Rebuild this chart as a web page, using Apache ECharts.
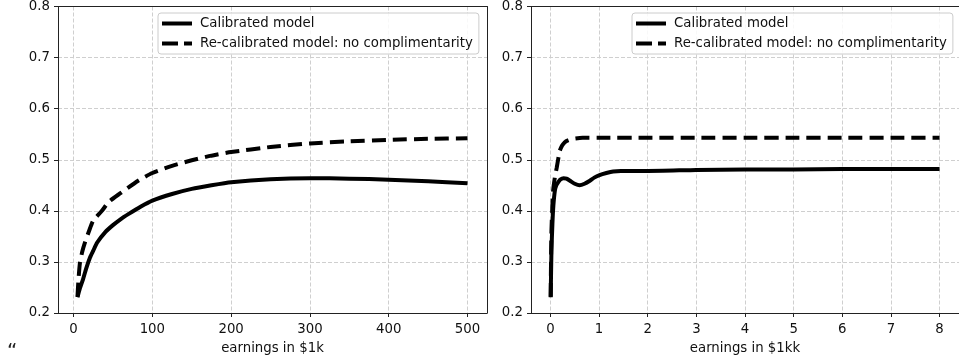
<!DOCTYPE html>
<html>
<head>
<meta charset="utf-8">
<script src="https://cdn.jsdelivr.net/npm/echarts@6/dist/echarts.min.js"></script>
<style>
html,body{margin:0;padding:0;background:#fff;}
#c{width:959px;height:364px;}
</style>
</head>
<body>
<div id="c"></div>
<script>
// Left panel: earnings in $1k
var leftCalX = [5, 8, 12, 16, 21, 25, 30, 40, 50, 60, 70, 85, 100, 125, 150, 175, 200, 250, 300, 350, 400, 450, 500];
var leftCalY = [0.231, 0.248, 0.266, 0.287, 0.309, 0.322, 0.338, 0.358, 0.372, 0.384, 0.394, 0.408, 0.420, 0.433, 0.443, 0.450, 0.456, 0.462, 0.464, 0.463, 0.461, 0.458, 0.454];
var leftRecX = [5, 6, 8, 11, 14, 20, 25, 36, 45, 59, 82, 100, 125, 150, 175, 200, 250, 300, 350, 400, 450, 500];
var leftRecY = [0.232, 0.260, 0.297, 0.320, 0.336, 0.362, 0.381, 0.400, 0.418, 0.434, 0.459, 0.474, 0.488, 0.499, 0.508, 0.515, 0.525, 0.532, 0.536, 0.539, 0.541, 0.542];
// Right panel: earnings in $1kk
var rightCalX = [0.005, 0.02, 0.04, 0.06, 0.09, 0.12, 0.16, 0.2, 0.27, 0.33, 0.4, 0.5, 0.6, 0.7, 0.81, 0.9, 1.01, 1.15, 1.29, 1.45, 1.6, 2, 3, 4, 5, 6, 7, 8];
var rightCalY = [0.231, 0.32, 0.374, 0.41, 0.439, 0.450, 0.456, 0.461, 0.464, 0.463, 0.459, 0.453, 0.450, 0.453, 0.459, 0.465, 0.470, 0.474, 0.477, 0.478, 0.478, 0.478, 0.480, 0.481, 0.481, 0.482, 0.482, 0.482];
var rightRecX = [0.005, 0.02, 0.055, 0.09, 0.13, 0.19, 0.24, 0.29, 0.36, 0.46, 0.66, 1, 2, 3, 4, 5, 6, 7, 8];
var rightRecY = [0.232, 0.36, 0.439, 0.465, 0.485, 0.517, 0.528, 0.534, 0.538, 0.541, 0.543, 0.543, 0.543, 0.543, 0.543, 0.543, 0.543, 0.543, 0.543];
var leftTicks = [0, 100, 200, 300, 400, 500];
var rightTicks = [0, 1, 2, 3, 4, 5, 6, 7, 8];
var seriesNames = ['Calibrated model', 'Re-calibrated model: no complimentarity'];
var xNames = ['earnings in $1k', 'earnings in $1kk'];

function zip(xs, ys){ return xs.map(function(x,i){ return [x, ys[i]]; }); }

var FONT = 'DejaVu Sans';
var TXT = '#111';
var FS = 13.3;
var GRIDC = '#cfcfcf';

function xAxis(idx, min, max, ticks, name){
  return {
    type:'value', gridIndex: idx, min: min, max: max,
    name: name, nameLocation:'middle', nameGap: 29,
    nameTextStyle:{fontFamily:FONT, fontSize:FS, color:TXT},
    axisLine:{show:true, onZero:false, lineStyle:{color:'#222', width:1}},
    axisTick:{show:true, length:4, customValues: ticks, lineStyle:{color:'#222'}},
    axisLabel:{customValues: ticks, margin:10, fontFamily:FONT, fontSize:FS, color:TXT},
    splitLine:{show:true, lineStyle:{color:GRIDC, type:[4,2], width:1}}
  };
}
function xTop(idx, min, max){
  return {type:'value', gridIndex:idx, min:min, max:max, position:'top',
    axisLine:{show:true, onZero:false, lineStyle:{color:'#222', width:1}},
    axisTick:{show:false}, axisLabel:{show:false}, splitLine:{show:false}};
}
function yRight(idx){
  return {type:'value', gridIndex:idx, min:0.2, max:0.8, position:'right',
    axisLine:{show:true, onZero:false, lineStyle:{color:'#222', width:1}},
    axisTick:{show:false}, axisLabel:{show:false}, splitLine:{show:false}};
}
function yAxis(idx){
  return {
    type:'value', gridIndex: idx, min:0.2, max:0.8, interval:0.1,
    axisLine:{show:true, onZero:false, lineStyle:{color:'#222', width:1}},
    axisTick:{show:true, length:4, lineStyle:{color:'#222'}},
    axisLabel:{margin:8, fontFamily:FONT, fontSize:FS, color:TXT,
      formatter:function(v){ return v.toFixed(1); }},
    splitLine:{show:true, lineStyle:{color:GRIDC, type:[4,2], width:1}}
  };
}
function line(name, xi, data, dashed){
  return {
    type:'line', name:name, xAxisIndex:xi, yAxisIndex:xi, data:data,
    symbol:'none', smooth:0.2, animation:false, z:3,
    lineStyle:{color:'#000', width:4, type: dashed ? [14,7] : 'solid', cap:'butt'},
    itemStyle:{color:'#000'}
  };
}
var ICON_SOLID = 'path://M0,0h30v4h-30z';
var ICON_DASH = 'path://M0,0h16v4h-16zM22,0h8v4h-8z';
function legend(left, top){
  return {
    left:left, top:top, orient:'vertical', itemGap:7, itemWidth:30, itemHeight:4,
    padding:[4,6,4,4], z:10,
    borderColor:'#cccccc', borderWidth:1, borderRadius:3, backgroundColor:'rgba(255,255,255,0.85)',
    textStyle:{fontFamily:FONT, fontSize:FS, color:TXT, padding:[0,0,0,3]},
    data: [
      {name: seriesNames[0], icon: ICON_SOLID, itemStyle:{color:'#000'}},
      {name: seriesNames[1], icon: ICON_DASH, itemStyle:{color:'#000'}}
    ]
  };
}

var chart = echarts.init(document.getElementById('c'), null, {renderer:'canvas'});
var opt = {
  animation:false,
  backgroundColor:'#fff',
  grid:[
    {left:58, top:5, width:429, height:308, show:false},
    {left:531, top:5, width:428, height:308, show:false}
  ],
  xAxis:[ xAxis(0, -19.75, 524.75, leftTicks, xNames[0]), xAxis(1, -0.4, 8.4, rightTicks, xNames[1]),
          xTop(0, -19.75, 524.75), xTop(1, -0.4, 8.4) ],
  yAxis:[ yAxis(0), yAxis(1), yRight(0), yRight(1) ],
  legend:[],
  series:[
    line(seriesNames[0], 0, zip(leftCalX, leftCalY), false),
    line(seriesNames[1], 0, zip(leftRecX, leftRecY), true),
    line(seriesNames[0], 1, zip(rightCalX, rightCalY), false),
    line(seriesNames[1], 1, zip(rightRecX, rightRecY), true)
  ],
  graphic:[{type:'text', left:7, top:342, style:{text:'\u201C', fontFamily:FONT, fontSize:20, fill:'#222'}}]
};
opt.legend = [legend(158, 13), legend(632, 13)];
chart.setOption(opt);
</script>
</body>
</html>
